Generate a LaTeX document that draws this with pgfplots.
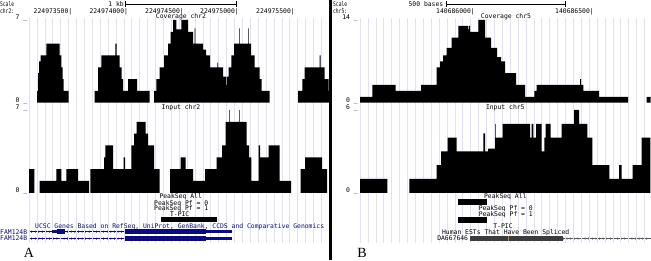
\documentclass[border=0pt]{standalone}
\usepackage{fontspec}
\setmainfont{Liberation Serif}
\setmonofont{DejaVu Sans Mono}
\usepackage{graphicx}
\usepackage{pgfplots}
\pgfplotsset{compat=1.18}
\usetikzlibrary{decorations.markings}
\definecolor{gblue}{RGB}{12,12,120}
\definecolor{lav}{RGB}{224,224,250}
\definecolor{pinkl}{RGB}{255,200,200}
\definecolor{estgray}{RGB}{60,60,60}
\definecolor{estorange}{RGB}{205,130,30}
\newcommand{\uf}{\ttfamily\fontsize{6.4}{6.4}\selectfont}
\tikzset{lbl/.style={inner sep=0pt, font=\uf, text height=4.6pt, text depth=0pt}}
\newcommand{\T}[4][west]{\node[lbl,anchor=#1] at (#2pt,260pt-#3pt) {#4};}
\pgfplotsset{
  trk/.style={scale only axis, hide axis, anchor=south west, clip=true},
  gridax/.style={scale only axis, anchor=south west, y dir=reverse, ymin=18, ymax=243,
     axis line style={draw=none}, tick style={draw=none}, xticklabels={}, ytick=\empty,
     xmajorgrids, major grid style={lav, line width=0.6pt},
     extra x tick style={grid style={pinkl, line width=0.7pt}, xticklabels={}}, clip=false},
  cov/.style={const plot, fill=black, draw=none},
  box/.style={fill=#1, draw=none},
}
\tikzset{
  chevL/.style={postaction={decorate}, decoration={markings, mark=between positions 0.01 and 0.99 step 3.6pt with {\draw[#1, line width=0.35pt] (0.9pt,1.1pt)--(0pt,0pt)--(0.9pt,-1.1pt);}}},
  chevR/.style={postaction={decorate}, decoration={markings, mark=between positions 0.01 and 0.99 step 3.6pt with {\draw[#1, line width=0.35pt] (-0.9pt,1.1pt)--(0pt,0pt)--(-0.9pt,-1.1pt);}}},
}
\begin{document}
\begin{tikzpicture}
\path (0,0) rectangle (651pt,260pt);

% gene / EST connecting lines with direction chevrons
\draw[gblue, line width=0.5pt, chevL=gblue] (29pt,28.3pt) -- (231.7pt,28.3pt);
\draw[gblue, line width=0.5pt, chevL=gblue] (29pt,21.4pt) -- (231.7pt,21.4pt);
\draw[black!65, line width=0.5pt, chevR=black!65] (563.3pt,21.4pt) -- (651pt,21.4pt);

% ---------------- Panel A background grid and features
\begin{axis}[gridax, at={(29pt,17pt)}, width=301pt, height=225pt, xmin=29, xmax=330,
  xtick={36.9,44.8,...,329}, extra x ticks={29.3}]
\addplot[box=gblue] coordinates {(52,230.4)(56.7,230.4)(56.7,233)(52,233)} -- cycle;
\addplot[box=gblue] coordinates {(56.7,229.3)(65,229.3)(65,234.3)(56.7,234.3)} -- cycle;
\addplot[box=gblue] coordinates {(125,229.3)(206.3,229.3)(206.3,234.3)(125,234.3)} -- cycle;
\addplot[box=gblue] coordinates {(206.3,230.3)(231.7,230.3)(231.7,233.3)(206.3,233.3)} -- cycle;
\addplot[box=gblue] coordinates {(125,236.1)(206.3,236.1)(206.3,241.3)(125,241.3)} -- cycle;
\addplot[box=gblue] coordinates {(206.3,237.1)(231.7,237.1)(231.7,240.2)(206.3,240.2)} -- cycle;
% T-PIC
\addplot[box=black] coordinates {(161,216.7)(216.7,216.7)(216.7,222)(161,222)} -- cycle;
\end{axis}

% ---------------- Panel B background grid and features
\begin{axis}[gridax, at={(360pt,17pt)}, width=291pt, height=225pt, xmin=360, xmax=651,
  xtick={367.9,375.8,...,651}, extra x ticks={360.3}]
\addplot[box=estgray] coordinates {(470,236)(563.3,236)(563.3,241.2)(470,241.2)} -- cycle;
\addplot[box=estorange] coordinates {(508,236)(508.8,236)(508.8,241.2)(508,241.2)} -- cycle;
% PeakSeq All / PeakSeq Pf = 1
\addplot[box=black] coordinates {(458.3,199.3)(486.7,199.3)(486.7,205)(458.3,205)} -- cycle;
\addplot[box=black] coordinates {(458.3,217.3)(486.7,217.3)(486.7,222.7)(458.3,222.7)} -- cycle;
\end{axis}

% ---------------- Coverage chr2
\begin{axis}[trk, at={(29pt,157.3pt)}, width=301pt, height=82.7pt, xmin=29, xmax=330, ymin=0, ymax=7]
\addplot[cov] coordinates {(37,1)(38,2.5)(39,3.5)(40.7,4)(46.3,5)(59.7,4)(61.3,3)(62.5,2)(63.7,1)(68.7,1)} \closedcycle;
\addplot[cov] coordinates {(94.7,1)(98,3)(101.3,4)(115.3,5)(116.7,4)(119.7,3)(121.5,2)(123,1)(128,2)(137,1)(149.7,1)} \closedcycle;
\addplot[cov] coordinates {(154,1)(156.3,2)(159.7,3)(164,4)(168,5)(170.7,6)(173,7)(176.3,6.2)(181.3,7)(188,6)(193,5)(194.7,6.3)(195.3,5)(203,4.5)(206,4)(210,3)(217.3,3.4)(218,3)(223,2.2)(226.3,1.5)(227,2.2)(228.5,3)(231.3,4)(234,5)(239,6.3)(239.7,5)(248,6.3)(248.7,5)(251,4)(254.7,3)(259.5,2)(261.5,1)(269.7,1)} \closedcycle;
\addplot[cov] coordinates {(298,1)(302.3,2)(304.7,3)(319.7,4)(320.7,3)(324.7,2)(328.5,1)(329.7,1)} \closedcycle;
\end{axis}

% ---------------- Input chr2
\begin{axis}[trk, at={(29pt,67.2pt)}, width=301pt, height=82.8pt, xmin=29, xmax=330, ymin=0, ymax=7]
\addplot[cov] coordinates {(29,2)(34.3,2)} \closedcycle;
\addplot[cov] coordinates {(39.7,1)(56.3,2)(61.3,1)(66.3,2)(78,1)(89,1)} \closedcycle;
\addplot[cov] coordinates {(90.3,2)(104,3)(105.3,4)(113,2)(123.7,3)(125,2)(131.3,4)(134,5)(136.7,6)(145.7,5)(148,4)(154,2)(159.7,2)} \closedcycle;
\addplot[cov] coordinates {(170,2)(180.5,3)(185.5,2)(193,1)(205,2)(216.7,3)(222,4)(225.7,6)(229,7)(229.7,6)(239,7)(239.7,6)(246.5,4)(249,3)(251.3,1)(258.7,4)(260,3)(268.7,4)(279.7,1)(291,1)} \closedcycle;
\addplot[cov] coordinates {(300.7,2)(305,3)(322,2)(327,2)} \closedcycle;
\end{axis}

% ---------------- Coverage chr5
\begin{axis}[trk, at={(360pt,157.3pt)}, width=291pt, height=82.7pt, xmin=360, xmax=651, ymin=0, ymax=14]
\addplot[cov] coordinates {(360,1)(372.3,3)(395.7,2)(421,3)(421.7,3)(436.7,6)(440,7)(443,8)(446.7,9.3)(451.7,11)(458.3,13)(468.3,12.4)(469,13)(470,12)(478.3,14)(485,11)(491,9.3)(497,7.7)(501,7)(505,5)(516,3)(525,1)(534.3,2)(536.7,3)(580,4)(581,3)(583.3,2)(599,1)(628,1)} \closedcycle;
\addplot[cov] coordinates {(646.7,1)(650.7,1)} \closedcycle;
\end{axis}

% ---------------- Input chr5
\begin{axis}[trk, at={(360pt,67.2pt)}, width=291pt, height=82.8pt, xmin=360, xmax=651, ymin=0, ymax=6]
\addplot[cov] coordinates {(360,1)(387.3,1)} \closedcycle;
\addplot[cov] coordinates {(409.3,1)(436.7,2)(441,3)(447.7,4)(456.7,3)(483.3,4.3)(485,3)(488,3.2)(495,5)(495.7,4)(502.7,5)(530,4)(531.7,5)(533.3,4)(536,5)(541.7,3)(544.3,4)(545.7,5)(550.7,4)(561.7,5)(574,6)(579,5)(587.3,4)(592.3,2)(609.3,1)(619,2)(621.7,1)(632.7,2)(641.7,4)(650.3,4)} \closedcycle;
\end{axis}

% ---------------- divider
\fill[black] (329.3pt,0) rectangle (331.8pt,260pt);

% ---------------- scale bars
\draw[line width=0.5pt] (125pt,256pt) -- (236.7pt,256pt);
\draw[line width=0.5pt] (125pt,253pt) -- (125pt,259pt);
\draw[line width=0.5pt] (236.7pt,253pt) -- (236.7pt,259pt);
\draw[line width=0.5pt] (446pt,256pt) -- (565pt,256pt);
\draw[line width=0.5pt] (446pt,253pt) -- (446pt,259pt);
\draw[line width=0.5pt] (565pt,253pt) -- (565pt,259pt);

% ---------------- Panel A text
\T{0}{4}{\scalebox{0.72}[1]{Scale}}
\T{0}{11}{\scalebox{0.72}[1]{chr2:}}
\T[east]{124}{4}{1 kb}
\T{33.5}{11}{224973500|}
\T{89.3}{11}{224974000|}
\T{145}{11}{224974500|}
\T{200}{11}{224975000|}
\T{256}{11}{224975500|}
\T[east]{27.5}{17.3}{7 \_}
\T[center]{181}{16}{Coverage chr2}
\T[east]{27.5}{100.7}{0 \_}
\T[east]{27.5}{107}{7 \_}
\T[center]{181}{107}{Input chr2}
\T[east]{27.5}{190.7}{0 \_}
\T{159.3}{196.5}{PeakSeq All}
\T{154}{202.7}{PeakSeq Pf = 0}
\T{154}{208.7}{PeakSeq Pf = 1}
\T[center]{179.7}{214}{T-PIC}
\T{35}{226}{\color{gblue}UCSC Genes Based on RefSeq, UniProt, GenBank, CCDS and Comparative Genomics}
\T{0}{231.7}{\color{gblue}FAM124B}
\T{0}{238.3}{\color{gblue}FAM124B}
\node[inner sep=0pt, font=\fontsize{14}{14}\selectfont] at (29pt,260pt-253pt) {A};

% ---------------- Panel B text
\T{333}{4}{\scalebox{0.72}[1]{Scale}}
\T{333}{11}{\scalebox{0.72}[1]{chr5:}}
\T[east]{443.5}{4}{500 bases}
\T{436}{11}{140686000|}
\T{555}{11}{140686500|}
\T[east]{358}{17.3}{14 \_}
\T[center]{506}{16}{Coverage chr5}
\T[east]{358}{100.7}{0 \_}
\T[east]{358}{107}{6 \_}
\T[center]{505.3}{107}{Input chr5}
\T[east]{358}{190.7}{0 \_}
\T[center]{505.3}{196}{PeakSeq All}
\T[center]{505.8}{208.3}{PeakSeq Pf = 0}
\T[center]{505.8}{214.3}{PeakSeq Pf = 1}
\T[center]{503}{226}{T-PIC}
\T[center]{505.7}{232}{Human ESTs That Have Been Spliced}
\T[east]{468.3}{238.3}{DA667646}
\node[inner sep=0pt, font=\fontsize{14}{14}\selectfont] at (362pt,260pt-253pt) {B};

\pgfresetboundingbox
\useasboundingbox (0,0) rectangle (651pt,260pt);
\end{tikzpicture}
\end{document}
